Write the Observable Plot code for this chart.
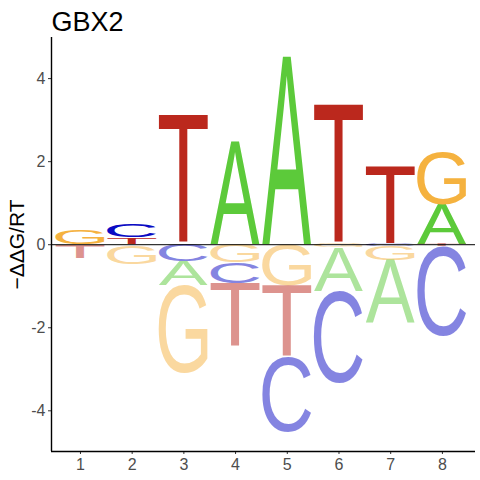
<!DOCTYPE html>
<html><head><meta charset="utf-8">
<script src="https://cdn.jsdelivr.net/npm/d3@7"></script>
<script src="https://cdn.jsdelivr.net/npm/@observablehq/plot@0.6"></script>
<style>
body{margin:0;background:#fff}
svg{font-family:"Liberation Sans",Arial,sans-serif}
</style>
</head><body><div id="chart"></div>
<script>
// ---- data ----
const positions = [1, 2, 3, 4, 5, 6, 7, 8];
const bases = ["A", "C", "G", "T"];
const valuesA = [-0.04, -0.03, -0.58, 2.48, 4.53, -1.04, -1.50, 0.94];
const valuesC = [0.00, 0.31, -0.41, -0.51, -1.81, -2.23, -0.05, -2.17];
const valuesG = [0.34, -0.45, -2.12, -0.43, -0.99, -0.08, -0.33, 1.28];
const valuesT = [-0.30, 0.16, 3.11, -1.54, -1.73, 3.35, 1.88, -0.05];
const baseColors = ["#5CCA3A", "#0A0AC4", "#F5B23F", "#BB281D"];
const yTicks = [-4, -2, 0, 2, 4];
const title = "GBX2";
const yLabel = "−ΔΔG/RT";

// ---- stacks ----
const series = {A: valuesA, C: valuesC, G: valuesG, T: valuesT};
const colorOf = Object.fromEntries(bases.map((b, i) => [b, baseColors[i]]));
const letters = [];
positions.forEach((p, i) => {
  const vals = bases.map(b => ({base: b, v: series[b][i]}));
  let acc = 0;
  vals.filter(d => d.v > 0).sort((a, b) => a.v - b.v).forEach(d => {
    letters.push({pos: p, base: d.base, lo: acc, hi: acc + d.v, neg: false});
    acc += d.v;
  });
  acc = 0;
  vals.filter(d => d.v < 0).sort((a, b) => b.v - a.v).forEach(d => {
    letters.push({pos: p, base: d.base, lo: acc + d.v, hi: acc, neg: true});
    acc += d.v;
  });
});
const posLetters = letters.filter(d => !d.neg);
const negLetters = letters.filter(d => d.neg);
const halfWidth = 0.475;
const xDomain = [0.44, 8.64];
const yDomain = [-4.98, 4.99];

const plot = Plot.plot({
  width: 480,
  height: 480,
  marginLeft: 51,
  marginRight: 5,
  marginTop: 37,
  marginBottom: 29,
  style: {fontSize: "16px", fontFamily: "Liberation Sans, Arial, sans-serif", color: "#333"},
  x: {domain: xDomain, ticks: positions, tickFormat: d => String(d), tickSize: 3, tickPadding: 4, label: null},
  y: {domain: yDomain, ticks: yTicks, tickFormat: d => String(d), tickSize: 3, tickPadding: 3, label: null},
  marks: [
    Plot.text(posLetters, {x: "pos", y: "lo", text: "base", fill: d => colorOf[d.base], fontSize: 100}),
    Plot.text(negLetters, {x: "pos", y: "lo", text: "base", fill: d => colorOf[d.base], fillOpacity: 0.5, fontSize: 100}),
    Plot.ruleY([0], {stroke: "black", strokeWidth: 1}),
    Plot.ruleX([xDomain[0]], {stroke: "black", strokeWidth: 1.4}),
    Plot.ruleY([yDomain[0]], {stroke: "black", strokeWidth: 1.4}),
    Plot.text([title], {frameAnchor: "top-left", textAnchor: "start", lineAnchor: "bottom", dy: -7, fontSize: 27, fill: "black"}),
    Plot.text([yLabel], {frameAnchor: "left", textAnchor: "middle", rotate: -90, dx: -34, fontSize: 21, fill: "black"})
  ]
});
document.getElementById("chart").appendChild(plot);

// ---- stretch letters to fill their stack boxes (positions from Plot's scales) ----
const xs = plot.scale("x"), ys = plot.scale("y");
const sx = d3.scaleLinear(xs.domain, xs.range);
const sy = d3.scaleLinear(ys.domain, ys.range);
const ctx = document.createElement("canvas").getContext("2d");
ctx.font = "100px 'Liberation Sans'";
const metrics = {};
for (const b of bases) {
  const m = ctx.measureText(b);
  metrics[b] = {l: m.actualBoundingBoxLeft, r: m.actualBoundingBoxRight, a: m.actualBoundingBoxAscent, d: m.actualBoundingBoxDescent};
}
const textGroups = plot.querySelectorAll('g[aria-label="text"]');
function fit(g, data) {
  if (!g) return;
  g.removeAttribute("transform");
  g.setAttribute("font-family", "Liberation Sans");
  g.setAttribute("text-anchor", "start");
  const texts = g.querySelectorAll("text");
  texts.forEach((t, i) => {
    const d = data[i];
    const m = metrics[d.base];
    const x0 = sx(d.pos - halfWidth), x1 = sx(d.pos + halfWidth);
    const yb = sy(d.lo), yt = sy(d.hi);
    const kx = (x1 - x0) / (m.l + m.r);
    const ky = (yb - yt) / (m.a + m.d);
    t.removeAttribute("x"); t.removeAttribute("y"); t.removeAttribute("dy");
    t.setAttribute("text-anchor", "start");
    t.setAttribute("transform", `translate(${x0},${yb}) scale(${kx},${ky}) translate(${m.l},${-m.d})`);
  });
}
fit(textGroups[0], posLetters);
fit(textGroups[1], negLetters);
plot.querySelectorAll('g[aria-label$="tick label"]').forEach(g => g.setAttribute("fill", "#4D4D4D"));
</script>
</body></html>
